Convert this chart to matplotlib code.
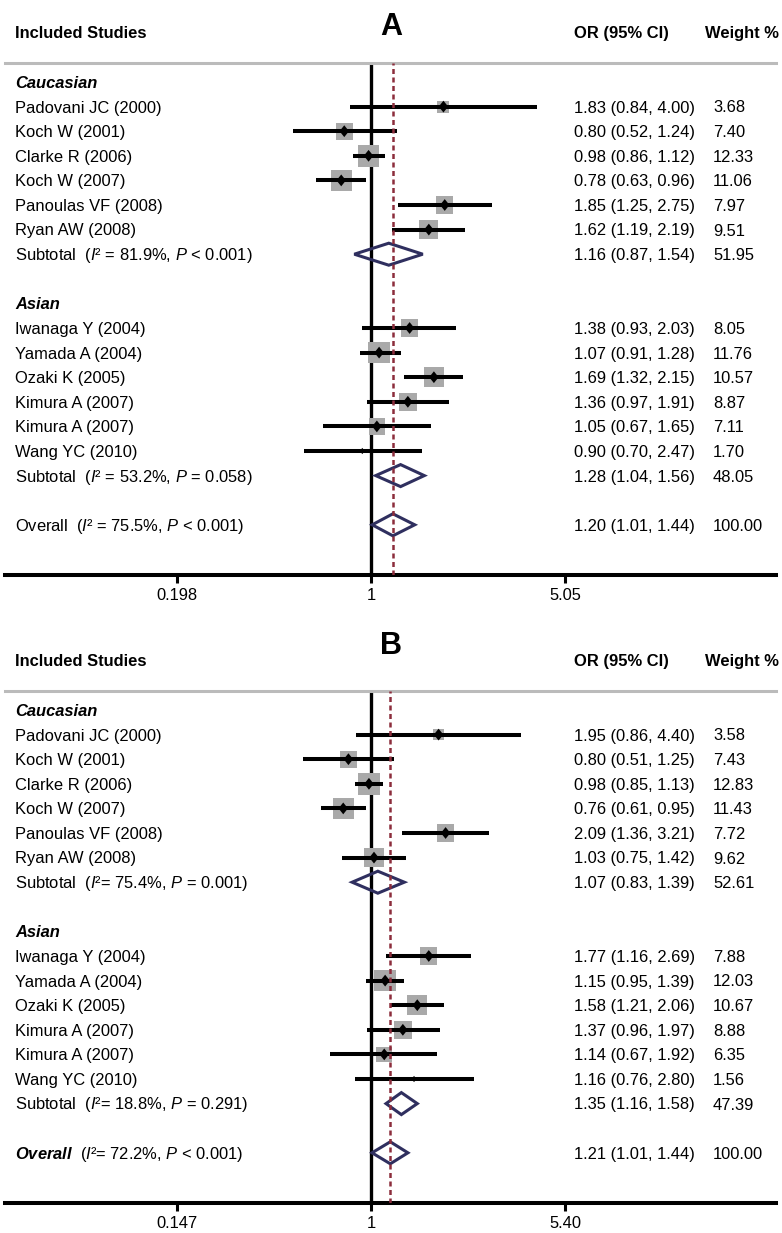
import matplotlib
matplotlib.use('Agg')
import matplotlib.pyplot as plt
from matplotlib.patches import Polygon
from matplotlib.ticker import NullLocator
from matplotlib.transforms import blended_transform_factory
import numpy as np

plt.rcParams['font.family'] = ['Liberation Sans', 'DejaVu Sans']
plt.rcParams['mathtext.fontset'] = 'custom'
plt.rcParams['mathtext.rm'] = 'Liberation Sans'
plt.rcParams['mathtext.it'] = 'Liberation Sans:italic'
plt.rcParams['mathtext.bf'] = 'Liberation Sans:bold'
plt.rcParams['mathtext.bfit'] = 'Liberation Sans:italic:bold'

# ---- data (as printed in the OR / weight columns) ----
cau_names = ["Padovani JC (2000)", "Koch W (2001)", "Clarke R (2006)",
             "Koch W (2007)", "Panoulas VF (2008)", "Ryan AW (2008)"]
asi_names = ["Iwanaga Y (2004)", "Yamada A (2004)", "Ozaki K (2005)",
             "Kimura A (2007)", "Kimura A (2007)", "Wang YC (2010)"]

# panel A
cau_or_a = [1.83, 0.80, 0.98, 0.78, 1.85, 1.62]
cau_lo_a = [0.84, 0.52, 0.86, 0.63, 1.25, 1.19]
cau_hi_a = [4.00, 1.24, 1.12, 0.96, 2.75, 2.19]
cau_wt_a = [3.68, 7.40, 12.33, 11.06, 7.97, 9.51]
asi_or_a = [1.38, 1.07, 1.69, 1.36, 1.05, 0.90]
asi_lo_a = [0.93, 0.91, 1.32, 0.97, 0.67, 0.70]
asi_hi_a = [2.03, 1.28, 2.15, 1.91, 1.65, 2.47]
asi_wt_a = [8.05, 11.76, 10.57, 8.87, 7.11, 1.70]
sub_a = [(1.16, 0.87, 1.54, 51.95), (1.28, 1.04, 1.56, 48.05)]
overall_a = (1.20, 1.01, 1.44, 100.00)
het_a = [r"Subtotal  ($\mathit{I}$² = 81.9%, $\mathit{P}$ < 0.001)",
         r"Subtotal  ($\mathit{I}$² = 53.2%, $\mathit{P}$ = 0.058)",
         r"Overall  ($\mathit{I}$² = 75.5%, $\mathit{P}$ < 0.001)"]
ticks_a = [0.198, 1, 5.05]
tick_labels_a = ["0.198", "1", "5.05"]

# panel B
cau_or_b = [1.95, 0.80, 0.98, 0.76, 2.09, 1.03]
cau_lo_b = [0.86, 0.51, 0.85, 0.61, 1.36, 0.75]
cau_hi_b = [4.40, 1.25, 1.13, 0.95, 3.21, 1.42]
cau_wt_b = [3.58, 7.43, 12.83, 11.43, 7.72, 9.62]
asi_or_b = [1.77, 1.15, 1.58, 1.37, 1.14, 1.16]
asi_lo_b = [1.16, 0.95, 1.21, 0.96, 0.67, 0.76]
asi_hi_b = [2.69, 1.39, 2.06, 1.97, 1.92, 2.80]
asi_wt_b = [7.88, 12.03, 10.67, 8.88, 6.35, 1.56]
sub_b = [(1.07, 0.83, 1.39, 52.61), (1.35, 1.16, 1.58, 47.39)]
overall_b = (1.21, 1.01, 1.44, 100.00)
het_b = [r"Subtotal  ($\mathit{I}$²= 75.4%, $\mathit{P}$ = 0.001)",
         r"Subtotal  ($\mathit{I}$²= 18.8%, $\mathit{P}$ = 0.291)",
         r"$\mathbfit{Overall}$  ($\mathit{I}$²= 72.2%, $\mathit{P}$ < 0.001)"]
# the source puts the upper label at the mirror position of the lower one
ticks_b = [0.147, 1, 1 / 0.147]
tick_labels_b = ["0.147", "1", "5.40"]

# Wang YC (2010) is drawn off its printed values in the source figure;
wang_drawn_a = (0.93, 0.57, 1.53)
wang_drawn_b = (1.53, 0.85, 2.76)

# ---- layout ----
W, H = 782, 1233
ROW = 24.6          # px between rows
FS = 11.9           # pt
BASE = 5.9 / ROW    # text baseline below row centre
BOX = '#a9a9a9'
NAVY = '#2f2f5f'
MAROON = '#8c2d3c'
POINT = [(0, 1), (0.8, 0), (0, -1), (-0.8, 0)]  # point-estimate diamond

fig = plt.figure(figsize=(W / 100, H / 100), dpi=100)


def draw_panel(top, title, title_px, groups, subs, overall, het,
               ticks, tick_labels, decade_px, wang_drawn):
    ax = fig.add_axes([5 / W, 1 - (top + 512) / H, 771 / W, 512 / H])
    ax.set_xscale('log')
    ax.set_xlim(10 ** (-366 / decade_px), 10 ** (405 / decade_px))
    ax.set_ylim(493 / ROW, -19 / ROW)
    tr = blended_transform_factory(fig.transFigure, ax.transData)

    for s in ('left', 'right'):
        ax.spines[s].set_visible(False)
    ax.spines['top'].set_color('#bbbbbb')
    ax.spines['top'].set_linewidth(2.2)
    ax.spines['bottom'].set_linewidth(2.9)
    ax.set_yticks([])
    ax.set_xticks(ticks)
    ax.set_xticklabels(tick_labels)
    ax.xaxis.set_minor_locator(NullLocator())
    ax.tick_params(axis='x', length=5.8, width=2.2, pad=3.5, labelsize=FS)

    # headers
    hy = (38 - 82) / ROW
    ax.text(15 / W, hy, "Included Studies", transform=tr, fontsize=FS,
            fontweight='bold', va='baseline', clip_on=False)
    ax.text(574 / W, hy, "OR (95% CI)", transform=tr, fontsize=FS,
            fontweight='bold', va='baseline', clip_on=False)
    ax.text(705 / W, hy, "Weight %", transform=tr, fontsize=FS,
            fontweight='bold', va='baseline', clip_on=False)
    ax.text(0.5, title_px / ROW, title, transform=tr, fontsize=22,
            fontweight='bold', ha='center', va='baseline', clip_on=False)

    ax.axvline(1, color='black', lw=2.4, zorder=1)
    ax.axvline(overall[0], color=MAROON, lw=1.8, ls=(0, (2, 1.4)), zorder=5)

    def diamond(row, o, lo, hi):
        h = 11 / ROW
        ax.add_patch(Polygon([(lo, row), (o, row - h), (hi, row), (o, row + h)],
                             closed=True, fill=False, edgecolor=NAVY,
                             lw=2.2, joinstyle='miter', zorder=4))

    def row_text(row, label, o, lo, hi, wt, **kw):
        y = row + BASE
        ax.text(15 / W, y, label, transform=tr, fontsize=FS, va='baseline', **kw)
        ax.text(574 / W, y, f"{o:.2f} ({lo:.2f}, {hi:.2f})", transform=tr,
                fontsize=FS, va='baseline')
        ax.text(713 / W, y, f"{wt:.2f}", transform=tr, fontsize=FS,
                va='baseline')

    row = 0
    for (name, names, ors, los, his, wts), sub, htxt in zip(groups, subs, het):
        ax.text(15 / W, row + BASE, name, transform=tr, fontsize=FS,
                fontweight='bold', style='italic', va='baseline')
        rows = np.arange(row + 1, row + 1 + len(names))
        est, lo, hi = list(ors), list(los), list(his)
        box = list(wts)
        pt = [8.5] * len(names)
        for i, n in enumerate(names):
            row_text(rows[i], n, ors[i], los[i], his[i], wts[i])
            if n == "Wang YC (2010)":
                est[i], lo[i], hi[i] = wang_drawn
                box[i] = 0.0
                pt[i] = 4.5
        side = 6.2 * np.sqrt(box) * 72 / 100
        ax.scatter(est, rows, marker='s', s=side ** 2, color=BOX,
                   linewidths=0, zorder=2)
        ax.hlines(rows, lo, hi, color='black', lw=2.9, zorder=3)
        ax.scatter(est, rows, marker=POINT, s=np.array(pt) ** 2,
                   color='black', linewidths=0, zorder=4)
        srow = rows[-1] + 1
        diamond(srow, *sub[:3])
        row_text(srow, htxt, *sub)
        row = srow + 2

    orow = row
    diamond(orow, *overall[:3])
    row_text(orow, het[2], *overall)
    return ax


draw_panel(63, "A", 35 - 82,
           [("Caucasian", cau_names, cau_or_a, cau_lo_a, cau_hi_a, cau_wt_a),
            ("Asian", asi_names, asi_or_a, asi_lo_a, asi_hi_a, asi_wt_a)],
           sub_a, overall_a, het_a, ticks_a, tick_labels_a, 276, wang_drawn_a)

draw_panel(691, "B", 654 - 709.5,
           [("Caucasian", cau_names, cau_or_b, cau_lo_b, cau_hi_b, cau_wt_b),
            ("Asian", asi_names, asi_or_b, asi_lo_b, asi_hi_b, asi_wt_b)],
           sub_b, overall_b, het_b, ticks_b, tick_labels_b, 233, wang_drawn_b)

fig.savefig('out.png', dpi=100)
